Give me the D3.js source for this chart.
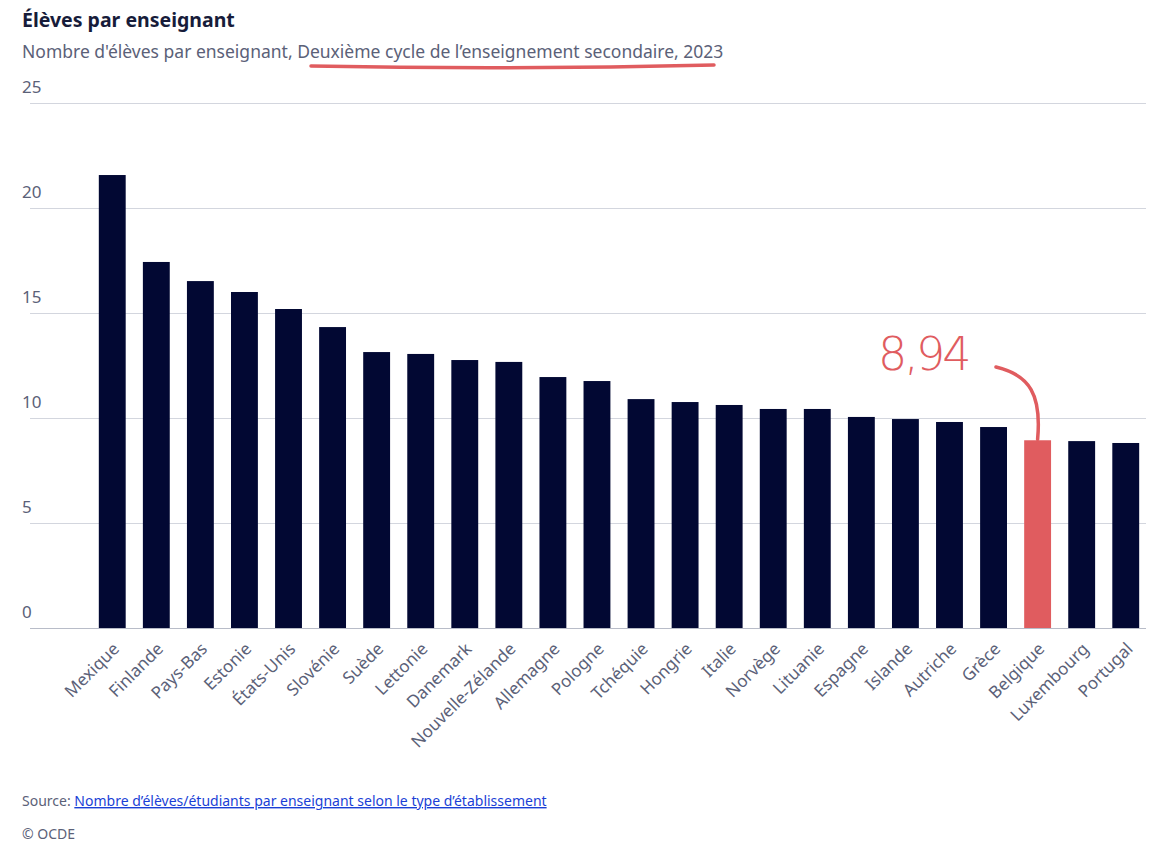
<!DOCTYPE html>
<html><head><meta charset="utf-8">
<script src="https://cdn.jsdelivr.net/npm/d3@7"></script>
<style>
body{margin:0;background:#fff;font-family:"Noto Sans",sans-serif;}
</style></head>
<body><svg width="1170" height="855"></svg>
<script>
const pays = ["Mexique","Finlande","Pays-Bas","Estonie","États-Unis","Slovénie","Suède","Lettonie","Danemark","Nouvelle-Zélande","Allemagne","Pologne","Tchéquie","Hongrie","Italie","Norvège","Lituanie","Espagne","Islande","Autriche","Grèce","Belgique","Luxembourg","Portugal"];
const valeurs = [21.57,17.43,16.52,16.0,15.19,14.33,13.14,13.05,12.76,12.67,11.95,11.76,10.9,10.76,10.62,10.43,10.43,10.05,9.95,9.81,9.57,8.94,8.9,8.81];
const ticks = [0,5,10,15,20,25];
const surligne = "Belgique";

const svg = d3.select("svg");
const x = d3.scaleBand().domain(pays).range([90,1148]).paddingInner(0.39).paddingOuter(0.2);
const y = d3.scaleLinear().domain([0,25]).range([628,103]);

svg.append("text").attr("x",22).attr("y",27).attr("font-size",19.5).attr("font-weight",700)
  .attr("fill","#171c3a").text("Élèves par enseignant");
svg.append("text").attr("x",22).attr("y",58).attr("font-size",17.5).attr("fill","#5b6178")
  .text("Nombre d'élèves par enseignant, Deuxième cycle de l’enseignement secondaire, 2023");
svg.append("path").attr("d","M311,66 Q510,70 714,65").attr("stroke","#e05c5f").attr("stroke-width",3.5)
  .attr("fill","none").attr("stroke-linecap","round");

const grid = svg.append("g");
ticks.forEach(t=>{
  grid.append("line").attr("x1",30).attr("x2",1146).attr("y1",y(t)+0.5).attr("y2",y(t)+0.5)
    .attr("stroke", t===0 ? "#b8bcc8" : "#d3d6de");
  grid.append("text").attr("x",22).attr("y",y(t)-10).attr("font-size",17).attr("fill","#5b6178").text(t);
});

svg.append("g").selectAll("rect").data(pays).join("rect")
  .attr("x",d=>x(d)).attr("width",x.bandwidth())
  .attr("y",(d,i)=>y(valeurs[i])).attr("height",(d,i)=>y(0)-y(valeurs[i]))
  .attr("fill",d=>d===surligne?"#e05c5f":"#020833");

svg.append("g").selectAll("text").data(pays).join("text")
  .attr("transform",d=>`translate(${x(d)+x.bandwidth()/2+8},${650}) rotate(-45)`)
  .attr("text-anchor","end").attr("font-size",17).attr("fill","#5b6178").text(d=>d);

const bx = x(surligne)+x.bandwidth()/2;
svg.append("text").attr("x",878).attr("y",370).attr("font-size",46).attr("letter-spacing",-3)
  .attr("font-family","'DejaVu Sans',sans-serif").attr("font-weight",300)
  .attr("fill","#e05c5f").text("8,94");
svg.append("path").attr("d",`M996,367 C1030,375 ${bx+4},395 ${bx},${y(8.94)-1}`)
  .attr("stroke","#e05c5f").attr("stroke-width",3.5).attr("fill","none").attr("stroke-linecap","round");

const src = svg.append("text").attr("x",22).attr("y",806).attr("font-size",14).attr("fill","#5b6178");
src.append("tspan").text("Source: ");
src.append("tspan").attr("fill","#1a3fd6").attr("text-decoration","underline")
  .text("Nombre d’élèves/étudiants par enseignant selon le type d’établissement");
svg.append("text").attr("x",22).attr("y",839).attr("font-size",14).attr("fill","#5b6178").text("© OCDE");
</script></body></html>
